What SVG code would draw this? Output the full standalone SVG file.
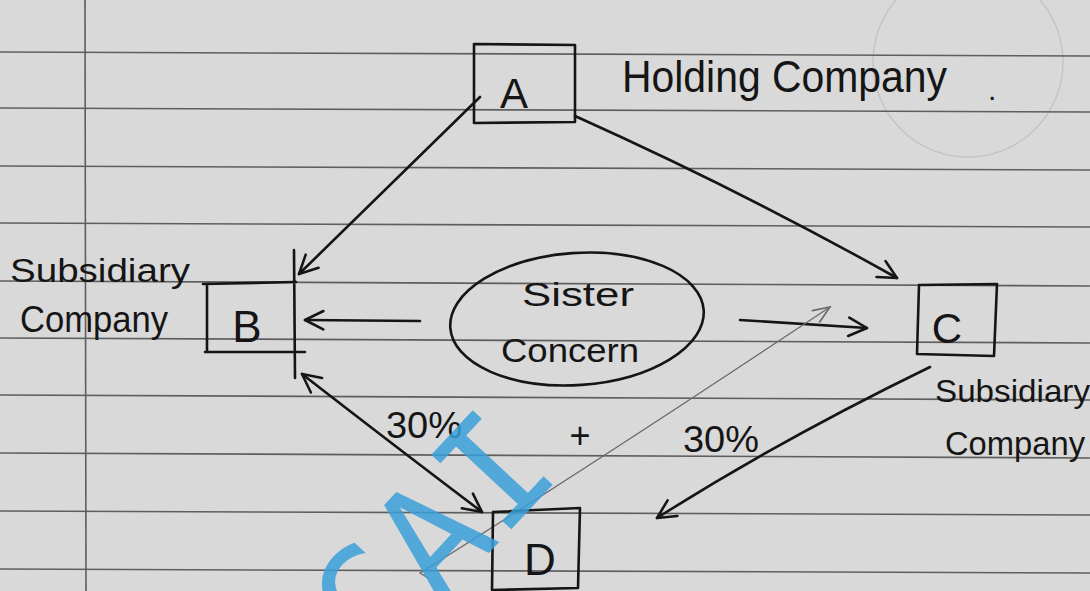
<svg xmlns="http://www.w3.org/2000/svg" width="1090" height="591" viewBox="0 0 1090 591">
<style>
.ink{fill:none;stroke:#151515;stroke-width:2.6;stroke-linecap:round;stroke-linejoin:round}
.thin{fill:none;stroke:#6a6a6a;stroke-width:1.3;stroke-linecap:round}
.rule{stroke:#5e5e5e;stroke-width:1.6}
.hand{font-family:"Liberation Sans","DejaVu Sans",sans-serif;fill:#151515}
.lbl{font-family:"Liberation Sans","DejaVu Sans",sans-serif;fill:#151515;text-anchor:middle}
</style>
<defs>
<marker id="arr" viewBox="0 0 12 12" refX="11" refY="6" markerWidth="22" markerHeight="22" markerUnits="userSpaceOnUse" orient="auto-start-reverse">
<path d="M1,1 L11,6 L1,11" fill="none" stroke="#151515" stroke-width="1.4" stroke-linecap="round" stroke-linejoin="round"/>
</marker>
<marker id="arrThin" viewBox="0 0 12 12" refX="11" refY="6" markerWidth="20" markerHeight="20" markerUnits="userSpaceOnUse" orient="auto">
<path d="M1,2 L11,6 L1,10" fill="none" stroke="#6a6a6a" stroke-width="1" stroke-linecap="round"/>
</marker>
</defs>
<!-- paper -->
<rect width="1090" height="591" fill="#d9d9d9"/>
<circle cx="968" cy="62" r="95" fill="none" stroke="#c4c4c4" stroke-width="1.5"/>
<g id="ruling">
<line class="rule" x1="0" y1="52" x2="1090" y2="56"/>
<line class="rule" x1="0" y1="108" x2="1090" y2="112"/>
<line class="rule" x1="0" y1="166" x2="1090" y2="170"/>
<line class="rule" x1="0" y1="223" x2="1090" y2="227"/>
<line class="rule" x1="0" y1="281" x2="1090" y2="286"/>
<line class="rule" x1="0" y1="338" x2="1090" y2="343"/>
<line class="rule" x1="0" y1="395" x2="1090" y2="400"/>
<line class="rule" x1="0" y1="453" x2="1090" y2="458"/>
<line class="rule" x1="0" y1="511" x2="1090" y2="515"/>
<line class="rule" x1="0" y1="569" x2="1090" y2="573"/>
<line class="rule" x1="85" y1="0" x2="86" y2="591"/>
</g>

<g id="connectors">
<path class="ink" d="M480,97 L299,274" marker-end="url(#arr)"/>
<path class="ink" d="M575,116 Q740,190 897,278" marker-end="url(#arr)"/>
<path class="ink" d="M420,321 L305,320" marker-end="url(#arr)"/>
<path class="ink" d="M740,320 L867,328" marker-end="url(#arr)"/>
<path class="ink" d="M302,374 Q400,450 482,512" marker-start="url(#arr)" marker-end="url(#arr)"/>
<path class="ink" d="M930,367 Q780,440 657,518" marker-end="url(#arr)"/>
<path class="thin" d="M428,578 L420,573 Q600,460 830,307" marker-end="url(#arrThin)"/>
</g>

<g id="nodeA">
<path class="ink" d="M474,44 L575,45 L575,122 L474,123 Z"/>
<text class="lbl" x="514" y="108" font-size="42">A</text>
</g>
<g id="holding">
<text class="hand" x="622" y="92" font-size="44" textLength="325" lengthAdjust="spacingAndGlyphs">Holding Company</text>
<text class="hand" x="988" y="100" font-size="30">.</text>
</g>

<g id="nodeB">
<path class="ink" d="M203,284 L296,282 M207,285 L207,352 M205,352 L305,352 M294,250 L295,378"/>
<text class="lbl" x="247" y="342" font-size="44">B</text>
<text class="hand" x="10" y="282" font-size="34" textLength="180" lengthAdjust="spacingAndGlyphs">Subsidiary</text>
<text class="hand" x="20" y="332" font-size="36" textLength="148" lengthAdjust="spacingAndGlyphs">Company</text>
</g>

<g id="nodeC">
<path class="ink" d="M919,285 L997,284 L994,356 L917,354 Z"/>
<text class="lbl" x="947" y="343" font-size="42">C</text>
<text class="hand" x="935" y="402" font-size="32" textLength="155" lengthAdjust="spacingAndGlyphs">Subsidiary</text>
<text class="hand" x="945" y="455" font-size="34" textLength="140" lengthAdjust="spacingAndGlyphs">Company</text>
</g>

<g id="nodeD">
<path class="ink" d="M493,512 L580,508 L578,588 L492,590 Z"/>
<text class="lbl" x="540" y="575" font-size="44">D</text>
</g>

<g id="sister">
<ellipse class="ink" cx="577" cy="319" rx="127" ry="66" transform="rotate(-4 577 319)"/>
<text class="lbl" x="578" y="306" font-size="34" textLength="112" lengthAdjust="spacingAndGlyphs">Sister</text>
<text class="lbl" x="570" y="362" font-size="34" textLength="138" lengthAdjust="spacingAndGlyphs">Concern</text>
</g>

<g id="labels">
<text class="hand" x="386" y="438" font-size="36" textLength="76" lengthAdjust="spacingAndGlyphs">30%</text>
<text class="hand" x="683" y="452" font-size="36" textLength="76" lengthAdjust="spacingAndGlyphs">30%</text>
<text class="lbl" x="580" y="448" font-size="36">+</text>
</g>

<g id="watermark">
<text x="0" y="0" transform="translate(378,672) rotate(-47)" font-family="DejaVu Sans Mono" font-size="150" fill="#3a9fd8" fill-opacity="0.85">CAI</text>
</g>
</svg>
